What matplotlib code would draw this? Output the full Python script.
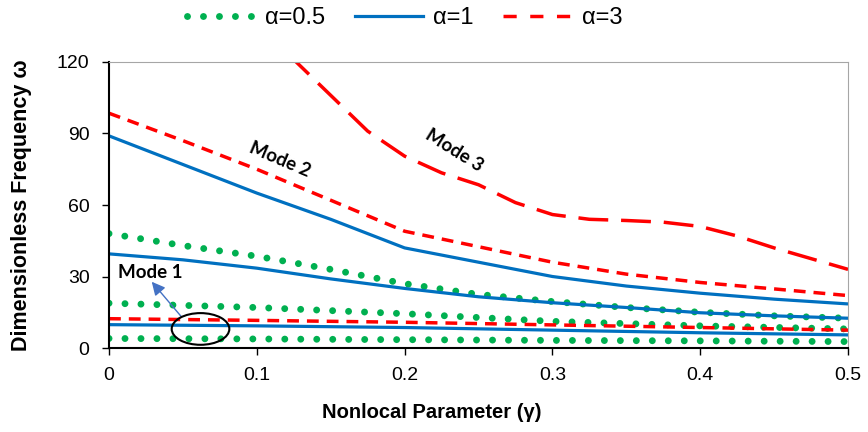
import matplotlib
matplotlib.use("Agg")
import matplotlib.pyplot as plt
from matplotlib.lines import Line2D
from matplotlib.patches import Ellipse

# ---- data ----
gamma_fine = [0, 0.05, 0.1, 0.15, 0.2, 0.25, 0.3, 0.35, 0.4, 0.45, 0.5]
gamma_coarse = [0, 0.1, 0.2, 0.3, 0.4, 0.5]

# alpha = 0.5 (green dotted)
a05_mode1 = [4.0, 3.8, 3.5, 3.2, 3.0, 2.7]
a05_mode2 = [18.8, 17.0, 14.4, 11.2, 9.3, 8.0]
a05_mode3 = [48.0, 43.0, 38.5, 33.0, 27.0, 22.5, 19.5, 17.0, 15.0, 13.5, 12.5]

# alpha = 1 (blue solid)
a1_mode1 = [9.8, 9.3, 8.6, 7.5, 6.4, 5.5]
a1_mode2 = [39.5, 37.0, 33.5, 29.0, 25.0, 21.5, 19.0, 17.0, 14.8, 13.5, 12.5]
a1_mode3 = [89.0, 77.0, 65.0, 54.0, 42.0, 36.0, 30.0, 26.0, 23.0, 20.5, 18.5]

# alpha = 3 (red dashed)
a3_mode1 = [12.3, 11.6, 10.8, 9.7, 8.6, 7.5]
a3_mode2 = [98.5, 87.0, 75.0, 62.0, 49.0, 42.5, 36.0, 31.0, 27.5, 24.8, 22.0]
gamma_a3_mode3 = [0.1, 0.125, 0.15, 0.175, 0.2, 0.225, 0.25, 0.275, 0.3, 0.325,
                  0.35, 0.375, 0.4, 0.425, 0.45, 0.475, 0.5]
a3_mode3 = [136.0, 121.0, 106.0, 91.0, 80.5, 73.5, 68.5, 61.0, 56.0, 54.0,
            53.5, 52.8, 51.0, 47.0, 42.0, 37.5, 33.0]

legend_labels = ["α=0.5", "α=1", "α=3"]
x_ticks = [0, 0.1, 0.2, 0.3, 0.4, 0.5]
y_ticks = [0, 30, 60, 90, 120]

GREEN = "#00B050"
BLUE = "#0070C0"
RED = "#FF0000"

plt.rcParams['font.family'] = ['Liberation Sans', 'DejaVu Sans']

fig = plt.figure(figsize=(8.68, 4.32), dpi=100)
ax = fig.add_axes([0.1256, 0.1944, 0.977 - 0.1256, 0.8565 - 0.1944])

dot_style = (0, (0.001, 2.3))
red_short = (0, (3.4, 2.3))
red_long = (0, (8.6, 3.7))

for ys, xs in [(a05_mode1, gamma_coarse), (a05_mode2, gamma_coarse), (a05_mode3, gamma_fine)]:
    ax.plot(xs, ys, color=GREEN, lw=5.0, linestyle=dot_style,
            dash_capstyle='round', solid_capstyle='round')

for ys, xs in [(a1_mode1, gamma_coarse), (a1_mode2, gamma_fine), (a1_mode3, gamma_fine)]:
    ax.plot(xs, ys, color=BLUE, lw=2.3, solid_capstyle='butt', solid_joinstyle='round')

ax.plot(gamma_coarse, a3_mode1, color=RED, lw=2.5, linestyle=red_short)
ax.plot(gamma_fine, a3_mode2, color=RED, lw=2.5, linestyle=red_short)
ax.plot(gamma_a3_mode3, a3_mode3, color=RED, lw=2.5, linestyle=red_long)

ax.set_xlim(0, 0.5)
ax.set_ylim(0, 120)
ax.set_xticks(x_ticks)
ax.set_xticklabels([f"{t:g}" for t in x_ticks])
ax.set_yticks(y_ticks)

for s in ['top', 'right']:
    ax.spines[s].set_color('#A6A6A6')
    ax.spines[s].set_linewidth(0.8)
for s in ['left', 'bottom']:
    ax.spines[s].set_color('black')
    ax.spines[s].set_linewidth(1.5)

ax.tick_params(axis='both', direction='out', length=5, width=1.0, labelsize=14, colors='black')
ax.tick_params(axis='x', pad=9)
ax.tick_params(axis='y', pad=9)

ax.set_xlabel("Nonlocal Parameter (γ)", fontsize=14.5, fontweight='bold', va='center')
ax.xaxis.set_label_coords(0.437, -0.227)
ax.set_ylabel("Dimensionless Frequency ω", fontsize=15.5, fontweight='bold', va='center')
ax.yaxis.set_label_coords(-0.118, 0.498)

# annotations
mode_font = dict(family=['Lato', 'DejaVu Sans'], fontweight='bold', fontsize=13.5, color='black')
ax.text(0.0280, 31.5, "Mode 1", ha='center', va='center', **mode_font)
ax.text(0.1157, 78.9, "Mode 2", ha='center', va='center', rotation=-23, **mode_font)
ax.text(0.2335, 83.0, "Mode 3", ha='center', va='center', rotation=-32, **mode_font)

ax.add_patch(Ellipse((0.0619, 8.0), 0.039, 13.3, fill=False, edgecolor='black', lw=1.5, zorder=5))
ax.annotate("", xy=(0.0289, 27.8), xytext=(0.049, 13.1),
            arrowprops=dict(arrowstyle="-|>,head_length=0.8,head_width=0.4",
                            color="#4472C4", lw=1.0, shrinkA=0, shrinkB=0))

handles = [
    Line2D([0], [0], color=GREEN, lw=5.0, linestyle=(0, (0.001, 2.3)), dash_capstyle='round'),
    Line2D([0], [0], color=BLUE, lw=2.3),
    Line2D([0], [0], color=RED, lw=2.5, linestyle=(0, (3.8, 3.9))),
]
fig.legend(handles, legend_labels, loc='center', bbox_to_anchor=(0.466, 0.958), ncol=3,
           frameon=False, fontsize=17, handlelength=2.9, handletextpad=0.42,
           columnspacing=1.25)

fig.savefig("out.png", dpi=100)
